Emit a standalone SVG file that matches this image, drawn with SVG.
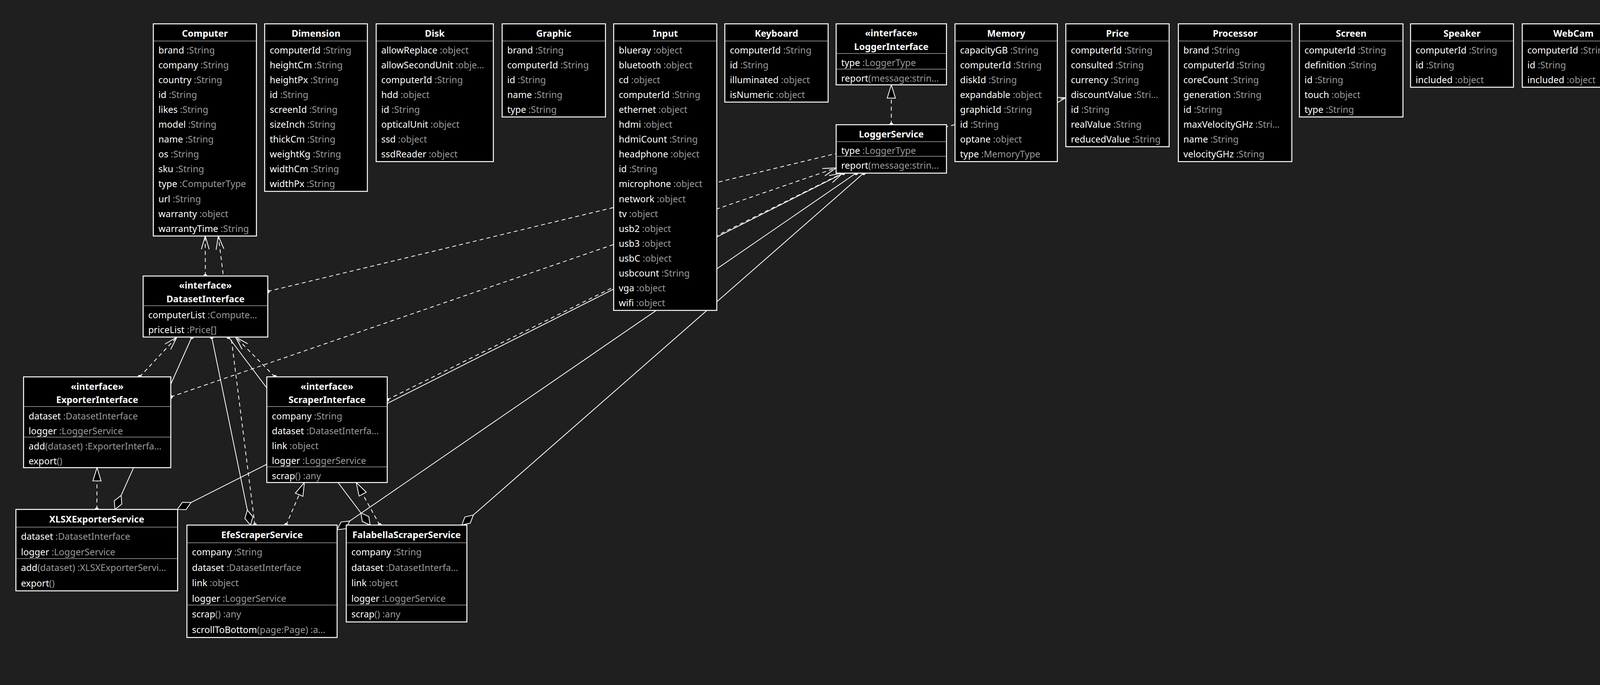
<svg xmlns="http://www.w3.org/2000/svg" width="4294" height="1754" viewBox="0 0 4294 1754">
<style>
.box{fill:#000;stroke:#fff;stroke-width:2.5}
.sep{stroke:#808080;stroke-width:2}
text{font-family:"Noto Sans","Open Sans","DejaVu Sans",sans-serif;font-size:23.5px;fill:#fff}
.ti{font-weight:bold;text-anchor:middle}
.g{fill:#9a9a9a}
.ln{fill:none;stroke:#fff;stroke-width:2}
.dash{stroke-dasharray:10 8}
</style>
<defs>
<marker id="arrow" markerUnits="userSpaceOnUse" markerWidth="40" markerHeight="30" refX="0" refY="0" orient="auto" overflow="visible">
<path d="M-34,-10 L0,0 L-34,10" fill="none" stroke="#fff" stroke-width="2"/>
</marker>
<marker id="tri" markerUnits="userSpaceOnUse" markerWidth="40" markerHeight="30" refX="0" refY="0" orient="auto" overflow="visible">
<path d="M0,0 L-34,-10.5 L-34,10.5 Z" fill="#000" stroke="#fff" stroke-width="2"/>
</marker>
<marker id="dia" markerUnits="userSpaceOnUse" markerWidth="45" markerHeight="30" refX="0" refY="0" orient="auto" overflow="visible">
<path d="M0,0 L19.5,-10.5 L39,0 L19.5,10.5 Z" fill="#000" stroke="#fff" stroke-width="2"/>
</marker>
<marker id="dot" markerUnits="userSpaceOnUse" markerWidth="12" markerHeight="12" refX="0" refY="0" orient="auto" overflow="visible">
<circle cx="0" cy="0" r="5" fill="#fff"/>
</marker>
</defs>
<rect x="0" y="0" width="4294" height="1754" fill="#1f1f1f"/>

<g id="connectors">
<path class="ln dash" d="M525.7,706.8 L525.4,604.3" marker-start="url(#dot)" marker-end="url(#arrow)"/>
<path class="ln dash" d="M652.5,1344.5 L558.9,604.3" marker-start="url(#dot)" marker-end="url(#arrow)"/>
<path class="ln dash" d="M685.5,746.2 L2728.5,250.4" marker-start="url(#dot)" marker-end="url(#arrow)"/>
<path class="ln dash" d="M357.5,965 L452.9,863" marker-start="url(#dot)" marker-end="url(#arrow)"/>
<path class="ln dash" d="M703.7,965 L603.0,863" marker-start="url(#dot)" marker-end="url(#arrow)"/>
<path class="ln dash" d="M437.2,1016.3 L2140.5,429.9" marker-start="url(#dot)" marker-end="url(#arrow)"/>
<path class="ln dash" d="M991.3,1023.5 L2157.2,443.3" marker-start="url(#dot)" marker-end="url(#arrow)"/>
<path class="ln dash" d="M248.0,1304.4 L248.4,1197.4" marker-start="url(#dot)" marker-end="url(#tri)"/>
<path class="ln dash" d="M732.4,1344.5 L779.2,1235.5" marker-start="url(#dot)" marker-end="url(#tri)"/>
<path class="ln dash" d="M972.2,1344.5 L912.0,1235.5" marker-start="url(#dot)" marker-end="url(#tri)"/>
<path class="ln dash" d="M2281.75,319.3 L2281.75,217.2" marker-start="url(#dot)" marker-end="url(#tri)"/>
<path class="ln" d="M294.2,1304.4 L491.1,863" marker-start="url(#dia)" marker-end="url(#dot)"/>
<path class="ln" d="M641.1,1344.5 L542.0,863" marker-start="url(#dia)" marker-end="url(#dot)"/>
<path class="ln" d="M947.4,1344.5 L584.8,863" marker-start="url(#dia)" marker-end="url(#dot)"/>
<path class="ln" d="M454.1,1304.4 L2159.0,443.3" marker-start="url(#dia)" marker-end="url(#dot)"/>
<path class="ln" d="M863,1356.3 L2191.6,443.3" marker-start="url(#dia)" marker-end="url(#dot)"/>
<path class="ln" d="M1182.3,1344.5 L2211.0,443.3" marker-start="url(#dia)" marker-end="url(#dot)"/>
</g>

<g id="Computer">
<rect class="box" x="392.5" y="61" width="264" height="543.3"/>
<text class="ti" x="524.5" y="93.5">Computer</text>
<line class="sep" x1="393.8" y1="105" x2="655.2" y2="105"/>
<text x="405.5" y="136.5">brand<tspan class="g"> :String</tspan></text>
<text x="405.5" y="174.6">company<tspan class="g"> :String</tspan></text>
<text x="405.5" y="212.7">country<tspan class="g"> :String</tspan></text>
<text x="405.5" y="250.8">id<tspan class="g"> :String</tspan></text>
<text x="405.5" y="288.9">likes<tspan class="g"> :String</tspan></text>
<text x="405.5" y="327.0">model<tspan class="g"> :String</tspan></text>
<text x="405.5" y="365.1">name<tspan class="g"> :String</tspan></text>
<text x="405.5" y="403.2">os<tspan class="g"> :String</tspan></text>
<text x="405.5" y="441.3">sku<tspan class="g"> :String</tspan></text>
<text x="405.5" y="479.4">type<tspan class="g"> :ComputerType</tspan></text>
<text x="405.5" y="517.5">url<tspan class="g"> :String</tspan></text>
<text x="405.5" y="555.6">warranty<tspan class="g"> :object</tspan></text>
<text x="405.5" y="593.7">warrantyTime<tspan class="g"> :String</tspan></text>
</g>

<g id="Dimension">
<rect class="box" x="677.5" y="61" width="263" height="429"/>
<text class="ti" x="809" y="93.5">Dimension</text>
<line class="sep" x1="678.8" y1="105" x2="939.2" y2="105"/>
<text x="690.5" y="136.5">computerId<tspan class="g"> :String</tspan></text>
<text x="690.5" y="174.6">heightCm<tspan class="g"> :String</tspan></text>
<text x="690.5" y="212.7">heightPx<tspan class="g"> :String</tspan></text>
<text x="690.5" y="250.8">id<tspan class="g"> :String</tspan></text>
<text x="690.5" y="288.9">screenId<tspan class="g"> :String</tspan></text>
<text x="690.5" y="327.0">sizeInch<tspan class="g"> :String</tspan></text>
<text x="690.5" y="365.1">thickCm<tspan class="g"> :String</tspan></text>
<text x="690.5" y="403.2">weightKg<tspan class="g"> :String</tspan></text>
<text x="690.5" y="441.3">widthCm<tspan class="g"> :String</tspan></text>
<text x="690.5" y="479.4">widthPx<tspan class="g"> :String</tspan></text>
</g>

<g id="Disk">
<rect class="box" x="963" y="61" width="300" height="352.8"/>
<text class="ti" x="1113" y="93.5">Disk</text>
<line class="sep" x1="964.3" y1="105" x2="1261.7" y2="105"/>
<text x="976" y="136.5">allowReplace<tspan class="g"> :object</tspan></text>
<text x="976" y="174.6">allowSecondUnit<tspan class="g"> :obje…</tspan></text>
<text x="976" y="212.7">computerId<tspan class="g"> :String</tspan></text>
<text x="976" y="250.8">hdd<tspan class="g"> :object</tspan></text>
<text x="976" y="288.9">id<tspan class="g"> :String</tspan></text>
<text x="976" y="327.0">opticalUnit<tspan class="g"> :object</tspan></text>
<text x="976" y="365.1">ssd<tspan class="g"> :object</tspan></text>
<text x="976" y="403.2">ssdReader<tspan class="g"> :object</tspan></text>
</g>

<g id="Graphic">
<rect class="box" x="1285.5" y="61" width="264.5" height="238.5"/>
<text class="ti" x="1417.75" y="93.5">Graphic</text>
<line class="sep" x1="1286.8" y1="105" x2="1548.7" y2="105"/>
<text x="1298.5" y="136.5">brand<tspan class="g"> :String</tspan></text>
<text x="1298.5" y="174.6">computerId<tspan class="g"> :String</tspan></text>
<text x="1298.5" y="212.7">id<tspan class="g"> :String</tspan></text>
<text x="1298.5" y="250.8">name<tspan class="g"> :String</tspan></text>
<text x="1298.5" y="288.9">type<tspan class="g"> :String</tspan></text>
</g>

<g id="Input">
<rect class="box" x="1571" y="61" width="264" height="733.8"/>
<text class="ti" x="1703" y="93.5">Input</text>
<line class="sep" x1="1572.3" y1="105" x2="1833.7" y2="105"/>
<text x="1584" y="136.5">blueray<tspan class="g"> :object</tspan></text>
<text x="1584" y="174.6">bluetooth<tspan class="g"> :object</tspan></text>
<text x="1584" y="212.7">cd<tspan class="g"> :object</tspan></text>
<text x="1584" y="250.8">computerId<tspan class="g"> :String</tspan></text>
<text x="1584" y="288.9">ethernet<tspan class="g"> :object</tspan></text>
<text x="1584" y="327.0">hdmi<tspan class="g"> :object</tspan></text>
<text x="1584" y="365.1">hdmiCount<tspan class="g"> :String</tspan></text>
<text x="1584" y="403.2">headphone<tspan class="g"> :object</tspan></text>
<text x="1584" y="441.3">id<tspan class="g"> :String</tspan></text>
<text x="1584" y="479.4">microphone<tspan class="g"> :object</tspan></text>
<text x="1584" y="517.5">network<tspan class="g"> :object</tspan></text>
<text x="1584" y="555.6">tv<tspan class="g"> :object</tspan></text>
<text x="1584" y="593.7">usb2<tspan class="g"> :object</tspan></text>
<text x="1584" y="631.8">usb3<tspan class="g"> :object</tspan></text>
<text x="1584" y="669.9">usbC<tspan class="g"> :object</tspan></text>
<text x="1584" y="708.0">usbcount<tspan class="g"> :String</tspan></text>
<text x="1584" y="746.1">vga<tspan class="g"> :object</tspan></text>
<text x="1584" y="784.2">wifi<tspan class="g"> :object</tspan></text>
</g>

<g id="Keyboard">
<rect class="box" x="1855.5" y="61" width="264.5" height="200.4"/>
<text class="ti" x="1987.75" y="93.5">Keyboard</text>
<line class="sep" x1="1856.8" y1="105" x2="2118.7" y2="105"/>
<text x="1868.5" y="136.5">computerId<tspan class="g"> :String</tspan></text>
<text x="1868.5" y="174.6">id<tspan class="g"> :String</tspan></text>
<text x="1868.5" y="212.7">illuminated<tspan class="g"> :object</tspan></text>
<text x="1868.5" y="250.8">isNumeric<tspan class="g"> :object</tspan></text>
</g>

<g id="LoggerInterface">
<rect class="box" x="2140.5" y="61" width="282.5" height="156.2"/>
<text class="ti" x="2281.75" y="92.5">«interface»</text>
<text class="ti" x="2281.75" y="127.5">LoggerInterface</text>
<line class="sep" x1="2141.8" y1="137" x2="2421.7" y2="137"/>
<text x="2153.5" y="168.5">type<tspan class="g"> :LoggerType</tspan></text>
<line class="sep" x1="2141.8" y1="177.1" x2="2421.7" y2="177.1"/>
<text x="2153.5" y="208.6">report<tspan class="g">(message:strin…</tspan></text>
</g>

<g id="LoggerService">
<rect class="box" x="2140.5" y="319.3" width="282.5" height="124"/>
<text class="ti" x="2281.75" y="351.7">LoggerService</text>
<line class="sep" x1="2141.8" y1="362.7" x2="2421.7" y2="362.7"/>
<text x="2153.5" y="393.5">type<tspan class="g"> :LoggerType</tspan></text>
<line class="sep" x1="2141.8" y1="400.3" x2="2421.7" y2="400.3"/>
<text x="2153.5" y="432">report<tspan class="g">(message:strin…</tspan></text>
</g>

<g id="Memory">
<rect class="box" x="2444.8" y="61" width="262" height="352.8"/>
<text class="ti" x="2575.8" y="93.5">Memory</text>
<line class="sep" x1="2446.1" y1="105" x2="2705.5" y2="105"/>
<text x="2457.8" y="136.5">capacityGB<tspan class="g"> :String</tspan></text>
<text x="2457.8" y="174.6">computerId<tspan class="g"> :String</tspan></text>
<text x="2457.8" y="212.7">diskId<tspan class="g"> :String</tspan></text>
<text x="2457.8" y="250.8">expandable<tspan class="g"> :object</tspan></text>
<text x="2457.8" y="288.9">graphicId<tspan class="g"> :String</tspan></text>
<text x="2457.8" y="327.0">id<tspan class="g"> :String</tspan></text>
<text x="2457.8" y="365.1">optane<tspan class="g"> :object</tspan></text>
<text x="2457.8" y="403.2">type<tspan class="g"> :MemoryType</tspan></text>
</g>

<g id="Price">
<rect class="box" x="2728.5" y="61" width="264.5" height="314.7"/>
<text class="ti" x="2860.75" y="93.5">Price</text>
<line class="sep" x1="2729.8" y1="105" x2="2991.7" y2="105"/>
<text x="2741.5" y="136.5">computerId<tspan class="g"> :String</tspan></text>
<text x="2741.5" y="174.6">consulted<tspan class="g"> :String</tspan></text>
<text x="2741.5" y="212.7">currency<tspan class="g"> :String</tspan></text>
<text x="2741.5" y="250.8">discountValue<tspan class="g"> :Stri…</tspan></text>
<text x="2741.5" y="288.9">id<tspan class="g"> :String</tspan></text>
<text x="2741.5" y="327.0">realValue<tspan class="g"> :String</tspan></text>
<text x="2741.5" y="365.1">reducedValue<tspan class="g"> :String</tspan></text>
</g>

<g id="Processor">
<rect class="box" x="3016.6" y="61" width="290.5" height="352.8"/>
<text class="ti" x="3161.85" y="93.5">Processor</text>
<line class="sep" x1="3017.9" y1="105" x2="3305.8" y2="105"/>
<text x="3029.6" y="136.5">brand<tspan class="g"> :String</tspan></text>
<text x="3029.6" y="174.6">computerId<tspan class="g"> :String</tspan></text>
<text x="3029.6" y="212.7">coreCount<tspan class="g"> :String</tspan></text>
<text x="3029.6" y="250.8">generation<tspan class="g"> :String</tspan></text>
<text x="3029.6" y="288.9">id<tspan class="g"> :String</tspan></text>
<text x="3029.6" y="327.0">maxVelocityGHz<tspan class="g"> :Stri…</tspan></text>
<text x="3029.6" y="365.1">name<tspan class="g"> :String</tspan></text>
<text x="3029.6" y="403.2">velocityGHz<tspan class="g"> :String</tspan></text>
</g>

<g id="Screen">
<rect class="box" x="3326.6" y="61" width="265" height="238.5"/>
<text class="ti" x="3459.1" y="93.5">Screen</text>
<line class="sep" x1="3327.9" y1="105" x2="3590.3" y2="105"/>
<text x="3339.6" y="136.5">computerId<tspan class="g"> :String</tspan></text>
<text x="3339.6" y="174.6">definition<tspan class="g"> :String</tspan></text>
<text x="3339.6" y="212.7">id<tspan class="g"> :String</tspan></text>
<text x="3339.6" y="250.8">touch<tspan class="g"> :object</tspan></text>
<text x="3339.6" y="288.9">type<tspan class="g"> :String</tspan></text>
</g>

<g id="Speaker">
<rect class="box" x="3611" y="61" width="263.5" height="162.3"/>
<text class="ti" x="3742.75" y="93.5">Speaker</text>
<line class="sep" x1="3612.3" y1="105" x2="3873.2" y2="105"/>
<text x="3624" y="136.5">computerId<tspan class="g"> :String</tspan></text>
<text x="3624" y="174.6">id<tspan class="g"> :String</tspan></text>
<text x="3624" y="212.7">included<tspan class="g"> :object</tspan></text>
</g>

<g id="WebCam">
<rect class="box" x="3897" y="61" width="262" height="162.3"/>
<text class="ti" x="4028" y="93.5">WebCam</text>
<line class="sep" x1="3898.3" y1="105" x2="4157.7" y2="105"/>
<text x="3910" y="136.5">computerId<tspan class="g"> :String</tspan></text>
<text x="3910" y="174.6">id<tspan class="g"> :String</tspan></text>
<text x="3910" y="212.7">included<tspan class="g"> :object</tspan></text>
</g>

<g id="DatasetInterface">
<rect class="box" x="366.4" y="706.8" width="319.1" height="156.2"/>
<text class="ti" x="525.95" y="739.3">«interface»</text>
<text class="ti" x="525.95" y="773.8">DatasetInterface</text>
<line class="sep" x1="367.7" y1="782.8" x2="684.2" y2="782.8"/>
<text x="379.4" y="815.3">computerList<tspan class="g"> :Compute…</tspan></text>
<text x="379.4" y="853.4">priceList<tspan class="g"> :Price[]</tspan></text>
</g>

<g id="ExporterInterface">
<rect class="box" x="60.3" y="965" width="376.9" height="232.4"/>
<text class="ti" x="248.75" y="997.5">«interface»</text>
<text class="ti" x="248.75" y="1032">ExporterInterface</text>
<line class="sep" x1="61.6" y1="1041" x2="435.9" y2="1041"/>
<text x="73.3" y="1073.5">dataset<tspan class="g"> :DatasetInterface</tspan></text>
<text x="73.3" y="1111.6">logger<tspan class="g"> :LoggerService</tspan></text>
<line class="sep" x1="61.6" y1="1119.2" x2="435.9" y2="1119.2"/>
<text x="73.3" y="1150.7">add<tspan class="g">(dataset) :ExporterInterfa…</tspan></text>
<text x="73.3" y="1188.8">export<tspan class="g">()</tspan></text>
</g>

<g id="ScraperInterface">
<rect class="box" x="683" y="965" width="308.3" height="270.5"/>
<text class="ti" x="837.15" y="997.5">«interface»</text>
<text class="ti" x="837.15" y="1032">ScraperInterface</text>
<line class="sep" x1="684.3" y1="1041" x2="990" y2="1041"/>
<text x="696" y="1073.5">company<tspan class="g"> :String</tspan></text>
<text x="696" y="1111.6">dataset<tspan class="g"> :DatasetInterfa…</tspan></text>
<text x="696" y="1149.7">link<tspan class="g"> :object</tspan></text>
<text x="696" y="1187.8">logger<tspan class="g"> :LoggerService</tspan></text>
<line class="sep" x1="684.3" y1="1195.4" x2="990" y2="1195.4"/>
<text x="696" y="1226.9">scrap<tspan class="g">() :any</tspan></text>
</g>

<g id="XLSXExporterService">
<rect class="box" x="40.7" y="1304.4" width="414" height="208.5"/>
<text class="ti" x="247.7" y="1337.5">XLSXExporterService</text>
<line class="sep" x1="42" y1="1349.8" x2="453.4" y2="1349.8"/>
<text x="53.7" y="1381.8">dataset<tspan class="g"> :DatasetInterface</tspan></text>
<text x="53.7" y="1421.5">logger<tspan class="g"> :LoggerService</tspan></text>
<line class="sep" x1="42" y1="1430.2" x2="453.4" y2="1430.2"/>
<text x="53.7" y="1462.2">add<tspan class="g">(dataset) :XLSXExporterServi…</tspan></text>
<text x="53.7" y="1501.9">export<tspan class="g">()</tspan></text>
</g>

<g id="EfeScraperService">
<rect class="box" x="478.5" y="1344.5" width="384.5" height="287.8"/>
<text class="ti" x="670.75" y="1377.5">EfeScraperService</text>
<line class="sep" x1="479.8" y1="1389.8" x2="861.7" y2="1389.8"/>
<text x="491.5" y="1421.8">company<tspan class="g"> :String</tspan></text>
<text x="491.5" y="1461.5">dataset<tspan class="g"> :DatasetInterface</tspan></text>
<text x="491.5" y="1501.2">link<tspan class="g"> :object</tspan></text>
<text x="491.5" y="1540.9">logger<tspan class="g"> :LoggerService</tspan></text>
<line class="sep" x1="479.8" y1="1549.2" x2="861.7" y2="1549.2"/>
<text x="491.5" y="1581.2">scrap<tspan class="g">() :any</tspan></text>
<text x="491.5" y="1620.9">scrollToBottom<tspan class="g">(page:Page) :a…</tspan></text>
</g>

<g id="FalabellaScraperService">
<rect class="box" x="886.4" y="1344.5" width="308.8" height="248"/>
<text class="ti" x="1040.8" y="1377.5">FalabellaScraperService</text>
<line class="sep" x1="887.7" y1="1389.8" x2="1193.9" y2="1389.8"/>
<text x="899.4" y="1421.8">company<tspan class="g"> :String</tspan></text>
<text x="899.4" y="1461.5">dataset<tspan class="g"> :DatasetInterfa…</tspan></text>
<text x="899.4" y="1501.2">link<tspan class="g"> :object</tspan></text>
<text x="899.4" y="1540.9">logger<tspan class="g"> :LoggerService</tspan></text>
<line class="sep" x1="887.7" y1="1549.2" x2="1193.9" y2="1549.2"/>
<text x="899.4" y="1581.2">scrap<tspan class="g">() :any</tspan></text>
</g>
</svg>
